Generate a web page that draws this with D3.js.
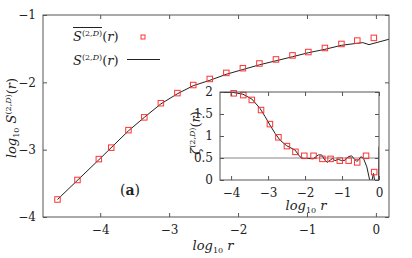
<!DOCTYPE html>
<meta charset="utf-8">
<style>
    body { margin: 0; background: #fff; }
    svg text { font-family: "DejaVu Serif", "Liberation Serif", "Noto Serif", Times, serif; }
    .tick line { stroke: #555; }
    .frame { fill: none; stroke: #555; stroke-width: 1; }
    .sq { fill: none; stroke: #f33; stroke-width: 1; }
    .curve { fill: none; stroke: #222; stroke-width: 1; }
</style>
<svg width="412" height="258"></svg>
<script src="https://cdn.jsdelivr.net/npm/d3@7"></script>
<script>

    // main plot: log10 S vs log10 r
    var mainSqX = [-4.62, -4.33, -4.02, -3.84, -3.59, -3.36, -3.12, -2.88, -2.65, -2.41, -2.17, -1.93, -1.69, -1.45, -1.21, -0.98, -0.74, -0.50, -0.27, -0.03];
    var mainSqY = [-3.74, -3.45, -3.14, -2.97, -2.71, -2.52, -2.31, -2.16, -2.04, -1.95, -1.86, -1.79, -1.72, -1.66, -1.60, -1.55, -1.49, -1.43, -1.38, -1.34];
    var mainLineX = [-4.62, -4.02, -3.59, -3.36, -3.12, -2.88, -2.65, -2.41, -2.17, -1.93, -1.69, -1.45, -1.21, -0.98, -0.74, -0.50, -0.27, -0.19, -0.10, 0.19];
    var mainLineY = [-3.74, -3.15, -2.72, -2.52, -2.32, -2.17, -2.05, -1.97, -1.88, -1.81, -1.74, -1.68, -1.62, -1.56, -1.51, -1.45, -1.42, -1.41, -1.44, -1.36];
    var mainXTicks = [-4, -3, -2, -1, 0];
    var mainYTicks = [-1, -2, -3, -4];

    // inset: zeta vs log10 r
    var insetSqX = [-3.93, -3.67, -3.44, -3.19, -2.95, -2.72, -2.49, -2.26, -2.02, -1.77, -1.53, -1.31, -1.06, -0.82, -0.59, -0.35, -0.13];
    var insetSqY = [1.97, 1.93, 1.82, 1.59, 1.27, 0.97, 0.77, 0.64, 0.55, 0.55, 0.48, 0.48, 0.44, 0.44, 0.40, 0.55, 0.18];
    var insetLineX = [-4.3, -3.95, -3.68, -3.44, -3.22, -3.08, -2.95, -2.81, -2.68, -2.5, -2.27, -2.14, -2.05, -1.91, -1.78, -1.64, -1.55, -1.46, -1.40, -1.32, -1.26, -1.19, -1.10, -1.01, -0.92, -0.83, -0.74, -0.68, -0.60, -0.54, -0.49, -0.42, -0.33, -0.24, -0.20, -0.15, -0.11, -0.05, -0.01, 0.0];
    var insetLineY = [1.99, 1.99, 1.95, 1.84, 1.63, 1.44, 1.25, 1.06, 0.91, 0.78, 0.68, 0.53, 0.49, 0.49, 0.48, 0.57, 0.57, 0.45, 0.40, 0.45, 0.49, 0.44, 0.47, 0.44, 0.45, 0.53, 0.55, 0.49, 0.42, 0.47, 0.53, 0.49, 0.30, -0.05, -0.05, 0.15, -0.05, -0.05, -0.05, 0.76];
    var insetXTicks = [-4, -3, -2, -1, 0];
    var insetYTicks = [0, 0.5, 1, 1.5, 2];
    var insetRef = 0.5;

    var svg = d3.select("svg");
    var fmt = function (d) { return d3.format("")(d); };

    function frame(g, x, y, xt, yt, pad) {
        var x0 = x.range()[0], x1 = x.range()[1], y0 = y.range()[0], y1 = y.range()[1];
        g.append("g").attr("transform", "translate(0," + y0 + ")")
            .call(d3.axisBottom(x).tickValues(xt).tickSizeInner(-4).tickSizeOuter(0).tickPadding(pad.b).tickFormat(fmt));
        g.append("g").attr("transform", "translate(0," + y1 + ")")
            .call(d3.axisTop(x).tickValues(xt).tickSizeInner(-4).tickSizeOuter(0).tickFormat(""));
        g.append("g").attr("transform", "translate(" + x0 + ",0)")
            .call(d3.axisLeft(y).tickValues(yt).tickSizeInner(-4).tickSizeOuter(0).tickPadding(pad.l).tickFormat(fmt));
        g.append("g").attr("transform", "translate(" + x1 + ",0)")
            .call(d3.axisRight(y).tickValues(yt).tickSizeInner(-4).tickSizeOuter(0).tickFormat(""));
        g.selectAll(".domain").remove();
        g.selectAll("g").attr("font-family", null).attr("font-size", 12);
        g.selectAll(".tick text").attr("fill", "#222");
        g.append("rect").attr("class", "frame")
            .attr("x", x0).attr("y", y1).attr("width", x1 - x0).attr("height", y0 - y1);
    }

    function squares(g, x, y, xs, ys, s) {
        g.selectAll(null).data(xs).enter().append("rect")
            .attr("class", "sq")
            .attr("x", function (d) { return x(d) - s / 2; })
            .attr("y", function (d, i) { return y(ys[i]) - s / 2; })
            .attr("width", s).attr("height", s);
    }

    function txt(g, x, y, size) {
        return g.append("text").attr("x", x).attr("y", y)
            .attr("font-size", size).attr("fill", "#222");
    }

    // appends "(2,D)(r)" after a symbol
    function supR(t) {
        t.append("tspan").attr("dy", -5).attr("font-size", 8).text("(2,");
        t.append("tspan").attr("font-size", 8).attr("font-style", "italic").text("D");
        t.append("tspan").attr("font-size", 8).text(")");
        t.append("tspan").attr("dy", 5).text("(");
        t.append("tspan").attr("font-style", "italic").text("r");
        t.append("tspan").text(")");
    }

    function logR(t) {
        t.append("tspan").attr("font-style", "italic").text("log");
        t.append("tspan").attr("dy", 3).attr("font-size", 8).text("10");
        t.append("tspan").attr("dy", -3).attr("font-style", "italic").text(" r");
    }

    // ---- main ----
    var x = d3.scaleLinear().domain([-4.83, 0.19]).range([43, 389]);
    var y = d3.scaleLinear().domain([-4, -1]).range([217, 15]);
    var g = svg.append("g");

    var line = d3.line().x(function (d) { return x(d[0]); }).y(function (d) { return y(d[1]); });
    g.append("path").attr("class", "curve")
        .attr("d", line(d3.zip(mainLineX, mainLineY)));
    squares(g, x, y, mainSqX, mainSqY, 5.5);
    frame(g, x, y, mainXTicks, mainYTicks, {b: 8, l: 7});

    // axis labels
    logR(txt(g, 213, 250, 13).attr("text-anchor", "middle"));

    var yl = txt(g, 0, 0, 13).attr("transform", "translate(16,118) rotate(-90)").attr("text-anchor", "middle");
    yl.append("tspan").attr("font-style", "italic").text("log");
    yl.append("tspan").attr("dy", 3).attr("font-size", 8).text("10");
    yl.append("tspan").attr("dy", -3).attr("font-style", "italic").text(" S");
    supR(yl);

    var pa = txt(g, 130, 195, 14).attr("text-anchor", "middle");
    pa.append("tspan").text("(");
    pa.append("tspan").attr("font-weight", "bold").text("a");
    pa.append("tspan").text(")");

    // legend
    var l1 = txt(g, 73, 41, 13);
    l1.append("tspan").attr("font-style", "italic").text("S");
    supR(l1);
    g.append("line").attr("x1", 73).attr("x2", 102).attr("y1", 27.5).attr("y2", 27.5)
        .attr("stroke", "#222").attr("stroke-width", 1);
    var l2 = txt(g, 73, 65, 13);
    l2.append("tspan").attr("font-style", "italic").text("S");
    supR(l2);
    g.append("rect").attr("class", "sq").attr("x", 141).attr("y", 35).attr("width", 4).attr("height", 4);
    g.append("line").attr("x1", 127).attr("x2", 160).attr("y1", 59.5).attr("y2", 59.5)
        .attr("stroke", "#222").attr("stroke-width", 1);

    // ---- inset ----
    var ix = d3.scaleLinear().domain([-4.3, 0]).range([220, 379]);
    var iy = d3.scaleLinear().domain([0, 2]).range([180, 92]);
    var ig = svg.append("g");
    ig.append("rect").attr("x", 220).attr("y", 92).attr("width", 159).attr("height", 88).attr("fill", "#fff");
    svg.append("clipPath").attr("id", "ic").append("rect")
        .attr("x", 220).attr("y", 92).attr("width", 159).attr("height", 88);

    ig.append("line").attr("x1", ix(-4.3)).attr("x2", ix(0))
        .attr("y1", iy(insetRef)).attr("y2", iy(insetRef))
        .attr("stroke", "#888").attr("stroke-width", 1);

    var iline = d3.line().x(function (d) { return ix(d[0]); }).y(function (d) { return iy(d[1]); });
    ig.append("path").attr("class", "curve").attr("clip-path", "url(#ic)")
        .attr("d", iline(d3.zip(insetLineX, insetLineY)));
    squares(ig, ix, iy, insetSqX, insetSqY, 5.5);
    frame(ig, ix, iy, insetXTicks, insetYTicks, {b: 8, l: 7});

    logR(txt(ig, 306, 210, 13).attr("text-anchor", "middle"));

    var iyl = txt(ig, 0, 0, 13).attr("transform", "translate(200,133) rotate(-90)").attr("text-anchor", "middle");
    iyl.append("tspan").attr("font-style", "italic").text("ζ");
    supR(iyl);

</script>
